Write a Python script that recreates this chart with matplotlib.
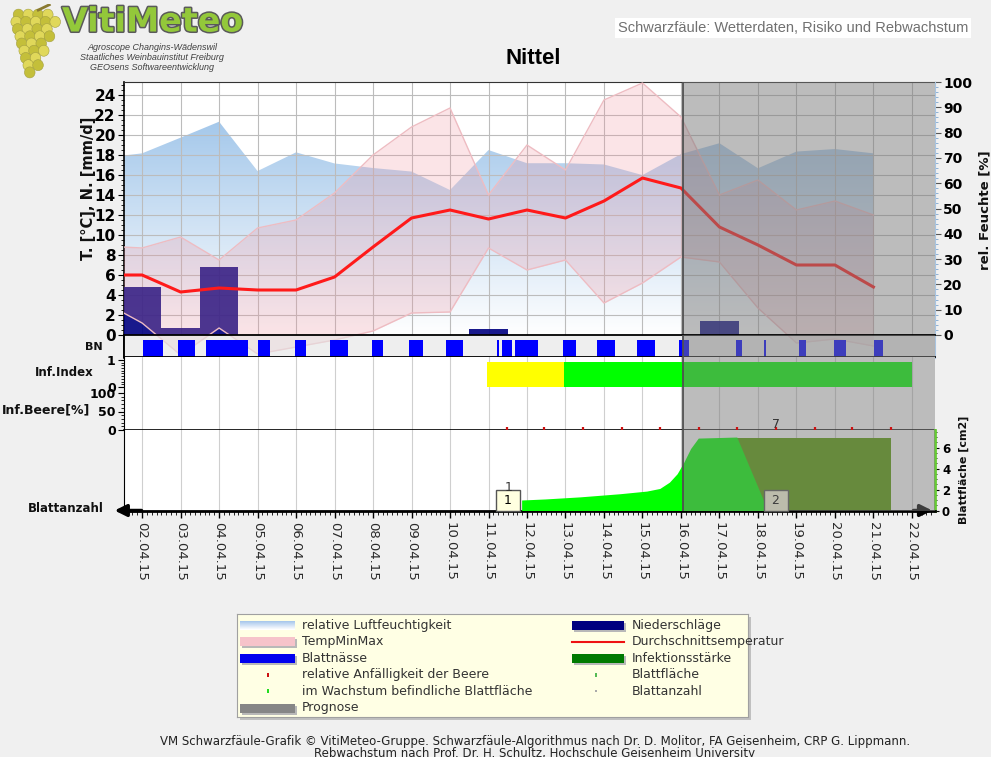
import numpy as np
import matplotlib
matplotlib.use('Agg')
import matplotlib.pyplot as plt
import matplotlib.patheffects as pe
from matplotlib.colors import LinearSegmentedColormap, to_rgb
from matplotlib.patches import Rectangle, Circle, Ellipse
from matplotlib.ticker import FixedLocator

# Tageswerte 01.04.15 - 21.04.15 (Index 0 = 01.04.)
tage = ['01.04.15', '02.04.15', '03.04.15', '04.04.15', '05.04.15', '06.04.15', '07.04.15',
        '08.04.15', '09.04.15', '10.04.15', '11.04.15', '12.04.15', '13.04.15', '14.04.15',
        '15.04.15', '16.04.15', '17.04.15', '18.04.15', '19.04.15', '20.04.15', '21.04.15']
t_mittel = [6.0, 6.0, 4.3, 4.7, 4.5, 4.5, 5.8, 8.8, 11.7, 12.5, 11.6, 12.5, 11.7, 13.4,
            15.7, 14.7, 10.8, 9.0, 7.0, 7.0, 4.8]
t_max = [8.9, 8.7, 9.8, 7.5, 10.7, 11.5, 14.2, 18.0, 20.8, 22.7, 14.0, 19.0, 16.5, 23.5,
         25.2, 21.8, 14.0, 15.5, 12.5, 13.4, 12.0]
t_min = [3.3, 1.2, -2.0, 0.7, -1.9, -1.2, -0.5, 0.4, 2.2, 2.3, 8.7, 6.5, 7.5, 3.2,
         5.2, 7.8, 7.3, 2.7, -0.8, -0.4, -1.1]
feuchte = [70, 71.8, 78, 84.3, 64.8, 72.2, 67.8, 66, 64.6, 57.3, 73.1, 67.9, 67.9, 67.4,
           63.2, 71.5, 75.8, 65.9, 72.5, 73.5, 71.8]
niederschlag = [0, 4.8, 0.7, 6.8, 0, 0, 0, 0, 0, 0, 0.6, 0, 0, 0, 0, 0, 1.4, 0, 0, 0, 0]

achse_labels = ['02.04.15', '03.04.15', '04.04.15', '05.04.15', '06.04.15', '07.04.15',
                '08.04.15', '09.04.15', '10.04.15', '11.04.15', '12.04.15', '13.04.15',
                '14.04.15', '15.04.15', '16.04.15', '17.04.15', '18.04.15', '19.04.15',
                '20.04.15', '21.04.15', '22.04.15']

# Blattnaesse-Perioden (Tag als Kommazahl, 1.0 = 02.04. 00:00)
bn_start = [1.02, 1.93, 2.65, 4.02, 4.96, 5.88, 6.97, 7.94, 8.90, 10.21, 10.35, 10.69,
            11.93, 12.83, 13.86, 14.96, 16.43, 17.17, 18.06, 18.97, 20.02]
bn_ende = [1.54, 2.38, 3.75, 4.32, 5.25, 6.36, 7.27, 8.29, 9.33, 10.28, 10.60, 11.29,
           12.27, 13.29, 14.32, 15.22, 16.58, 17.21, 18.25, 19.30, 20.24]

# Infektionsindex
inf_start = [9.95, 11.95]
inf_ende = [11.95, 20.99]
inf_farbe = ['#ffff00', '#00ff00']

# Anfaelligkeit der Beere [%]
beere_tage = [10.47, 11.45, 12.46, 13.46, 14.45, 15.47, 16.45, 17.46, 18.47, 19.45, 20.45]
beere_wert = [0, 0, 0, 0, 0, 0, 0, 0, 0, 0, 0]

# Blattflaeche [cm2]
wachstum_tage = [10.86, 11.47, 12.38, 13.42, 14.11, 14.45, 14.7, 14.9, 15.06, 15.25, 15.45,
                 16.45, 17.14, 17.2]
wachstum = [1.0, 1.1, 1.3, 1.6, 1.85, 2.1, 2.7, 3.5, 4.5, 5.9, 6.9, 7.0, 1.0, 0.0]
flaeche_tage = [16.45, 20.45]
flaeche = [6.95, 6.95]

# Blattanzahl
blatt_tage = [10.51, 17.47]
blatt_nr = [1, 2]
blatt_cm2 = [1, 7]

prognose_ab = 15.05
x_von, x_bis = 0.53, 21.6

W, H = 991.0, 757.0
def px(x0, y0, x1, y1):
    return [x0 / W, 1 - y1 / H, (x1 - x0) / W, (y1 - y0) / H]
def ft(x, y):
    return x / W, 1 - y / H

fig = plt.figure(figsize=(9.91, 7.57), dpi=100, facecolor='#f0f0f0')
grau = '#7a7a7a'
gitter = '#bcbcbc'

# ---------------- oberes Diagramm ----------------
ax = fig.add_axes(px(124, 82, 935, 358))
xs = np.arange(len(tage))
k = 100 / 25.3
lf = np.array(feuchte) / k
huelle = ax.fill_between(xs, 0, lf, facecolor='none', edgecolor='none')
verlauf = LinearSegmentedColormap.from_list('lf', ['#ffffff', '#94bee7'])
img = ax.imshow(np.linspace(0, 1, 256).reshape(-1, 1), extent=[xs[0], xs[-1], 0, 25.3],
                origin='lower', aspect='auto', cmap=verlauf, vmin=0, vmax=1, zorder=1)
img.set_clip_path(huelle.get_paths()[0], ax.transData)

ax.hlines(np.arange(2, 25, 2), x_von, x_bis, color=gitter, lw=0.8, zorder=2.5)
ax.vlines(np.arange(1, 22), 0, 25.3, color=gitter, lw=0.8, zorder=2.5)
ax.bar(xs, niederschlag, width=1.0, color='#000080', alpha=0.9, lw=0, zorder=2.6)
ax.fill_between(xs, t_min, t_max, color='#f0909c', alpha=0.24, lw=0, zorder=3)
ax.plot(xs, t_min, color='#eebcc2', lw=1, zorder=3.2)
ax.plot(xs, t_max, color='#eebcc2', lw=1, zorder=3.2)
ax.plot(xs, t_mittel, color='#ff1a1a', lw=2.2, zorder=5)
ax.axvspan(prognose_ab, x_bis, ymin=2.3 / 27.6, color=grau, alpha=0.5, lw=0, zorder=6)
ax.axvline(prognose_ab, ymin=2.3 / 27.6, color='#505050', lw=1.3, zorder=7)

ax.set_xlim(x_von, x_bis)
ax.set_ylim(-2.3, 25.3)
ax.set_xticks([])
ax.set_yticks(np.arange(0, 25, 2))
ax.yaxis.set_minor_locator(FixedLocator(np.arange(0, 25.3, 0.5)))
ax.tick_params(axis='y', which='major', length=4, labelsize=11, pad=2)
ax.tick_params(axis='y', which='minor', length=2)
for t in ax.get_yticklabels():
    t.set_fontweight('bold')
ax.spines['bottom'].set_visible(False)
ax.spines['right'].set_visible(False)
ax.spines['top'].set_color('#333333')
ax.spines['left'].set_linewidth(1.2)

ax2 = ax.twinx()
ax2.set_ylim(-2.3 * k, 25.3 * k)
ax2.set_yticks(np.arange(0, 101, 10))
ax2.yaxis.set_minor_locator(FixedLocator(np.arange(0, 101, 2)))
ax2.tick_params(axis='y', which='major', length=4, labelsize=10, pad=2, color='#555555')
ax2.tick_params(axis='y', which='minor', length=2, color='#7ea7d0')
for t in ax2.get_yticklabels():
    t.set_fontweight('bold')
for s in ['left', 'top', 'bottom']:
    ax2.spines[s].set_visible(False)
ax2.spines['right'].set_color('#a8c4e0')

# ---------------- Blattnaesse ----------------
bn = fig.add_axes(px(124, 335, 935, 357))
bn.set_facecolor((0.89, 0.89, 0.89, 0.6))
bn.broken_barh([(s, e - s) for s, e in zip(bn_start, bn_ende)], (0, 0.78),
               facecolors='#0000ff', zorder=2)
bn.axvspan(prognose_ab, x_bis, color=grau, alpha=0.5, lw=0, zorder=3)
bn.axvline(prognose_ab, color='#505050', lw=1.3, zorder=4)
bn.set_xlim(x_von, x_bis)
bn.set_ylim(0, 1)
bn.set_xticks([]); bn.set_yticks([])
bn.spines['right'].set_visible(False)
for s in ['top', 'bottom', 'left']:
    bn.spines[s].set_linewidth(1.3)

# ---------------- Infektionsindex ----------------
inf = fig.add_axes(px(124, 357, 935, 393))
inf.vlines(np.arange(1, 22), -1, 2, color='#cfcfcf', lw=0.8, zorder=1)
inf.broken_barh([(s, e - s) for s, e in zip(inf_start, inf_ende)], (0, 0.94),
                facecolors=inf_farbe, zorder=2)
inf.axvspan(prognose_ab, x_bis, color=grau, alpha=0.5, lw=0, zorder=3)
inf.axvline(prognose_ab, color='#505050', lw=1.3, zorder=4)
inf.set_xlim(x_von, x_bis)
inf.set_ylim(-6 / 27, 1 + 3 / 27)
inf.set_xticks([])
inf.set_yticks([0, 1])
inf.yaxis.set_minor_locator(FixedLocator(np.arange(0, 1.01, 0.1)))

# ---------------- Anfaelligkeit Beere ----------------
beere = fig.add_axes(px(124, 393, 935, 430))
beere.vlines(np.arange(1, 22), -10, 110, color='#cfcfcf', lw=0.8, zorder=1)
beere.plot(beere_tage, beere_wert, ls='none', marker='|', ms=5, mew=1.6, color='#cc1111',
           clip_on=False, zorder=4)
beere.axvspan(prognose_ab, x_bis, color=grau, alpha=0.5, lw=0, zorder=3)
beere.axvline(prognose_ab, color='#505050', lw=1.3, zorder=4)
beere.set_xlim(x_von, x_bis)
beere.set_ylim(0, 100)
beere.set_xticks([])
beere.set_yticks([0, 50, 100])
beere.yaxis.set_minor_locator(FixedLocator(np.arange(0, 101, 10)))
beere.spines['bottom'].set_linewidth(1.2)

for a in (inf, beere):
    a.spines['top'].set_visible(False)
    a.spines['right'].set_visible(False)
    if a is inf:
        a.spines['bottom'].set_visible(False)
    a.tick_params(axis='y', which='major', length=4, labelsize=9, pad=2)
    a.tick_params(axis='y', which='minor', length=2)
    for t in a.get_yticklabels():
        t.set_fontweight('bold')

# ---------------- Blattflaeche / Blattanzahl ----------------
bl = fig.add_axes(px(124, 430, 935, 510.5))
bl.vlines(np.arange(1, 22), 0, 10, color='#cfcfcf', lw=0.8, zorder=1)
bl.fill_between(flaeche_tage, 0, flaeche, color='#559c00', lw=0, zorder=2)
bl.fill_between(wachstum_tage, 0, wachstum, color='#00ff00', lw=0, zorder=3)
for d, n, c in zip(blatt_tage, blatt_nr, blatt_cm2):
    bl.annotate(' %d ' % n, xy=(d, 0), xytext=(0, 2.5), textcoords='offset points',
                ha='center', va='bottom', fontsize=9, zorder=5,
                bbox=dict(boxstyle='square,pad=0.35', fc='#ffffe0', ec='#555555', lw=1))
    bl.annotate('%d' % c, xy=(d, c), xytext=(0, 4), textcoords='offset points',
                ha='center', va='bottom', fontsize=9, color='#333333', zorder=5)
bl.axvspan(prognose_ab, x_bis, color=grau, alpha=0.5, lw=0, zorder=6)
bl.axvline(prognose_ab, color='#505050', lw=1.3, zorder=7)
bl.set_xlim(x_von, x_bis)
bl.set_ylim(0, 7.67)
bl.yaxis.tick_right()
bl.set_yticks([0, 2, 4, 6])
bl.yaxis.set_minor_locator(FixedLocator(np.arange(0, 7.6, 0.5)))
bl.tick_params(axis='y', which='major', length=3, labelsize=8.5, pad=2)
bl.tick_params(axis='y', which='minor', length=1.5)
for t in bl.get_yticklabels():
    t.set_fontweight('bold')
bl.set_xticks(np.arange(1, len(achse_labels) + 1))
bl.set_xticklabels(achse_labels, rotation=-90, fontsize=9.5, color='#2a2a2a')
bl.xaxis.set_minor_locator(FixedLocator(np.arange(0.625, 21.6, 0.125)))
bl.tick_params(axis='x', which='major', length=5, width=1, pad=3)
bl.tick_params(axis='x', which='minor', length=3)
bl.spines['top'].set_visible(False)
bl.spines['right'].set_color('#66cc33')
bl.spines['right'].set_linewidth(2)
bl.spines['bottom'].set_linewidth(2)
pfeil = dict(arrowstyle='-|>,head_length=0.7,head_width=0.35', color='black', lw=2.5)
bl.annotate('', xy=(-0.015, 0), xytext=(0.025, 0), xycoords='axes fraction',
            textcoords='axes fraction', arrowprops=pfeil, annotation_clip=False)
bl.annotate('', xy=(1.0, 0), xytext=(0.97, 0), xycoords='axes fraction',
            textcoords='axes fraction', arrowprops=pfeil, annotation_clip=False)

# ---------------- Beschriftungen ----------------
fett = dict(fontweight='bold', color='#111111')
fig.text(*ft(88, 188), 'T. [°C], N. [mm/d]', rotation=90, ha='center', va='center', fontsize=10.5, **fett)
fig.text(*ft(985, 210), 'rel. Feuchte [%]', rotation=90, ha='center', va='center', fontsize=9.5, **fett)
fig.text(*ft(964, 470), 'Blattfläche [cm2]', rotation=90, ha='center', va='center', fontsize=8, **fett)
fig.text(*ft(103, 347), 'BN', ha='right', va='center', fontsize=8, **fett)
fig.text(*ft(94, 373), 'Inf.Index', ha='right', va='center', fontsize=8.5, **fett)
fig.text(*ft(90, 410), 'Inf.Beere[%]', ha='right', va='center', fontsize=9, **fett)
fig.text(*ft(104, 508), 'Blattanzahl', ha='right', va='center', fontsize=8.5, **fett)

fig.text(*ft(533, 58), 'Nittel', ha='center', va='center', fontsize=16, fontweight='bold',
         family='Liberation Sans')
fig.text(*ft(618, 28), 'Schwarzfäule: Wetterdaten, Risiko und Rebwachstum', ha='left',
         va='center', fontsize=10.5, color='#707070', family='Liberation Sans',
         bbox=dict(fc='white', ec='none', pad=2))

# Logo
fig.text(*ft(62, 22), 'VitiMeteo', ha='left', va='center', fontsize=24, fontweight='bold',
         color='#93c83a', path_effects=[pe.withStroke(linewidth=2.2, foreground='#5a5a5a')])
for y, s in zip([47, 57, 68], ['Agroscope Changins-Wädenswil',
                               'Staatliches Weinbauinstitut Freiburg',
                               'GEOsens Softwareentwicklung']):
    fig.text(*ft(152, y), s, ha='center', va='center', fontsize=6.5, style='italic',
             color='#404040', family='Liberation Sans')
lg_logo = fig.add_axes(px(6, 4, 62, 80))
lg_logo.set_xlim(-3.3, 3.3); lg_logo.set_ylim(-8.6, 1.4)
lg_logo.axis('off')
for r, n in enumerate([4, 5, 4, 4, 3, 3, 2, 2, 1]):
    for j in range(n):
        cx = (j - (n - 1) / 2) * 1.15 + (0.25 if r % 2 else -0.1) - 0.05 * r
        lg_logo.add_patch(Ellipse((cx, -r * 0.95), 1.25, 1.45,
                                  fc='#e0d85a' if (r + j) % 2 else '#c4bf3a',
                                  ec='#a4a040', lw=0.4))
lg_logo.plot([0.5, 1.8], [0.6, 1.3], color='#8a7a30', lw=2)

# ---------------- Legende ----------------
fig.add_artist(Rectangle(ft(240, 720), 511 / W, 103 / H, transform=fig.transFigure,
                         fc='#c0c0c0', ec='none', zorder=-1))
lg = fig.add_axes(px(237, 614, 748, 717))
lg.set_xlim(237, 748); lg.set_ylim(717, 614)
lg.set_facecolor('#ffffe4')
lg.set_xticks([]); lg.set_yticks([])
for s in lg.spines.values():
    s.set_color('#a0a0a0')

def kaestchen(x0, x1, y, farbe):
    lg.add_patch(Rectangle((x0 + 2, y - 2.5), x1 - x0, 9, fc='#b8b8b8', ec='none'))
    lg.add_patch(Rectangle((x0, y - 4.5), x1 - x0, 9, fc=farbe, ec='none'))

zeilen = [625 + 16.6 * i for i in range(6)]
col1 = ['relative Luftfeuchtigkeit', 'TempMinMax', 'Blattnässe',
        'relative Anfälligkeit der Beere', 'im Wachstum befindliche Blattfläche', 'Prognose']
col2 = ['Niederschläge', 'Durchschnittsemperatur', 'Infektionsstärke', 'Blattfläche', 'Blattanzahl']

y = zeilen[0]
c0, c1 = np.array(to_rgb('#a9c8ec')), np.array(to_rgb('#ffffff'))
for i in range(9):
    lg.add_patch(Rectangle((240, y - 4.5 + i), 55, 1, fc=c0 + (c1 - c0) * i / 8, ec='none'))
kaestchen(240, 295, zeilen[1], '#f6c3ca')
kaestchen(240, 295, zeilen[2], '#0000ee')
lg.add_patch(Rectangle((267, zeilen[3] - 2), 2, 4, fc='#cc1111', ec='none'))
lg.add_patch(Rectangle((267, zeilen[4] - 2), 2, 4, fc='#22dd22', ec='none'))
kaestchen(240, 295, zeilen[5], '#868686')
kaestchen(572, 624, zeilen[0], '#00007f')
lg.plot([572, 624], [zeilen[1], zeilen[1]], color='#ee1111', lw=1.5)
kaestchen(572, 624, zeilen[2], '#007a00')
lg.add_patch(Rectangle((595, zeilen[3] - 2), 2, 4, fc='#55bb55', ec='none'))
lg.add_patch(Rectangle((595, zeilen[4] - 1), 2, 2, fc='#aaaaaa', ec='none'))
for yy, s in zip(zeilen, col1):
    lg.text(302, yy, s, va='center', fontsize=9, color='#333333')
for yy, s in zip(zeilen, col2):
    lg.text(632, yy, s, va='center', fontsize=9, color='#333333')

# Fusszeile
fig.text(*ft(535, 741), 'VM Schwarzfäule-Grafik © VitiMeteo-Gruppe. Schwarzfäule-Algorithmus nach '
         'Dr. D. Molitor, FA Geisenheim, CRP G. Lippmann.', ha='center', va='center',
         fontsize=8.5, color='#222222')
fig.text(*ft(535, 754), 'Rebwachstum nach Prof. Dr. H. Schultz, Hochschule Geisenheim University',
         ha='center', va='center', fontsize=8.5, color='#222222')

fig.savefig('out.png', dpi=100, facecolor=fig.get_facecolor())
